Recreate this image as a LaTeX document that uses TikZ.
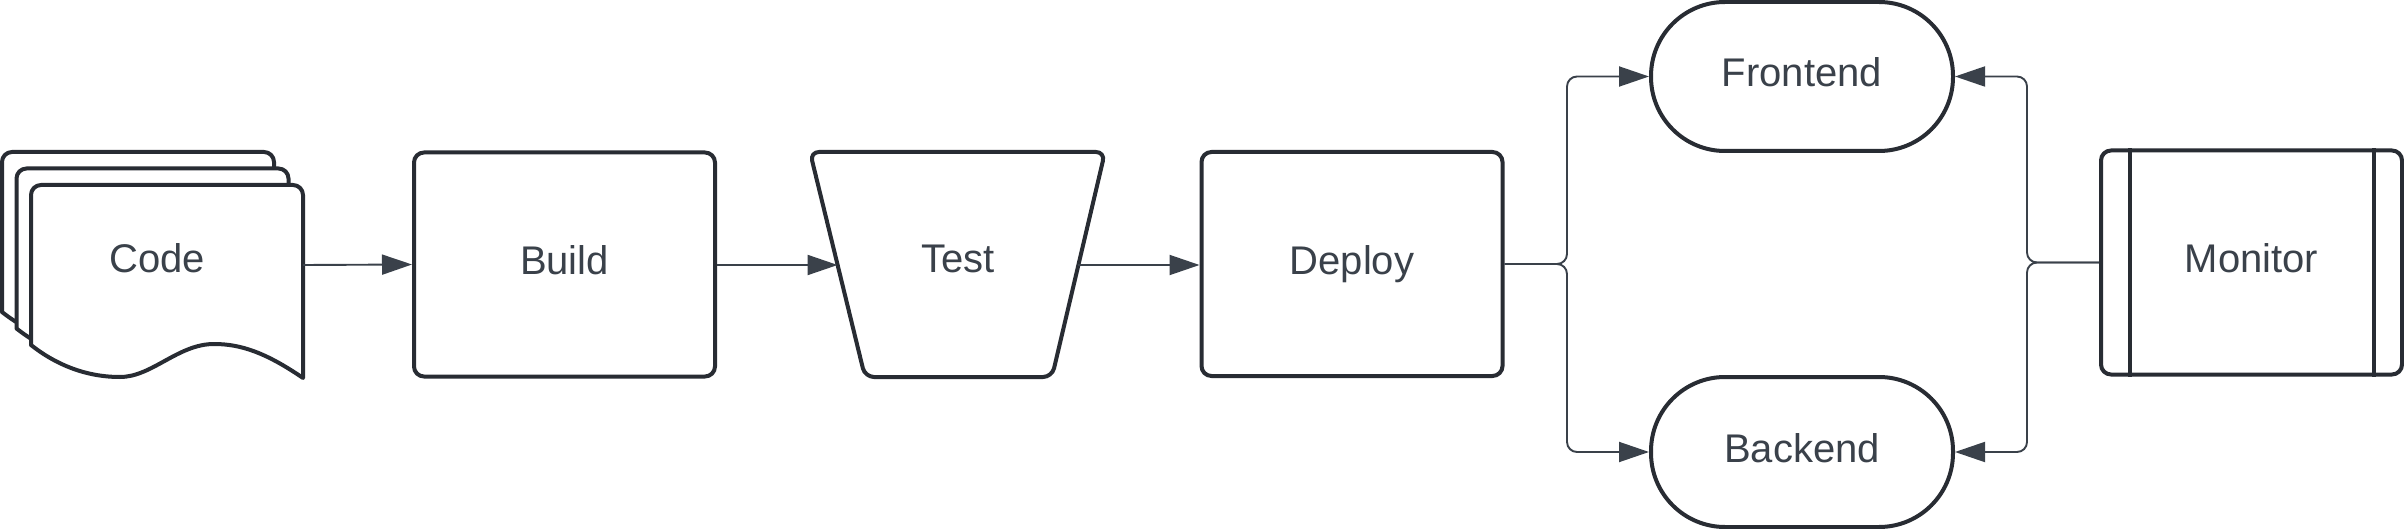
\documentclass[tikz,border=0pt]{standalone}
\usepackage{fontspec}
\setmainfont{Liberation Sans}
\usetikzlibrary{arrows.meta,calc}
\definecolor{linec}{HTML}{282C33}
\definecolor{connc}{HTML}{3A414A}
\definecolor{textc}{HTML}{3A414A}
\tikzset{
  shapeline/.style={draw=linec, line width=4pt, fill=white},
  boxnode/.style={shapeline, rectangle, rounded corners=10pt, minimum width=301pt, minimum height=224pt, inner sep=0pt},
  pillnode/.style={shapeline, rectangle, rounded corners=74pt, minimum width=302pt, minimum height=149pt, inner sep=0pt},
  lbl/.style={font=\fontsize{40}{48}\selectfont, text=textc, text height=29pt, text depth=8pt},
  conn/.style={draw=connc, line width=1.9pt, rounded corners=10pt, -{Triangle[length=30pt,width=20pt]}},
}
\begin{document}
\begin{tikzpicture}[x=1pt,y=-1pt]
\useasboundingbox (0,0) rectangle (2404,529);
\fill[white] (0,0) rectangle (2404,529);

% Code: stack of documents
\foreach \k in {2,1,0}{
  \begin{scope}[shift={({-14.5*\k},{-16.5*\k})}]
    \draw[shapeline, line join=round] (31,345) -- (31,195) arc[start angle=180,end angle=270,radius=10]
      -- (293,185) arc[start angle=270,end angle=360,radius=10]
      -- (303,378) .. controls (265,352) and (240,344) .. (214,344)
      .. controls (178,344) and (152,377) .. (120,377)
      .. controls (85,377) and (55,364) .. (31,345) -- cycle;
  \end{scope}
}
\node[lbl] (code) at (157,262) {Code};
\coordinate (code-out) at (303,265);

% Build
\node[boxnode, lbl] (build) at (564.5,264.5) {Build};

% Test trapezoid
\draw[shapeline, rounded corners=9pt] (810,152) -- (1105,152) -- (1052,377) -- (865,377) -- cycle;
\node[lbl] (test) at (958,262) {Test};
\coordinate (test-l) at (837.6,265);
\coordinate (test-r) at (1078.4,265);

% Deploy
\node[boxnode, lbl] (deploy) at (1352,264) {Deploy};

% Frontend / Backend
\node[pillnode, lbl] (front) at (1802,76.5) {Frontend};
\node[pillnode, lbl, minimum height=150pt] (back) at (1802,452) {Backend};

% Monitor
\node[boxnode, lbl] (monitor) at (2251.5,262.5) {Monitor};
\draw[draw=linec, line width=4pt] ([xshift=31pt]monitor.north west) -- ([xshift=31pt]monitor.south west);
\draw[draw=linec, line width=4pt] ([xshift=-30pt]monitor.north east) -- ([xshift=-30pt]monitor.south east);

% Connectors
\draw[conn] (code-out) -- (build.west);
\draw[conn] (build.east |- test-l) -- (test-l);
\draw[conn] (test-r) -- (deploy.west |- test-r);

\coordinate (splitL) at (1567,264);
\draw[conn] (deploy.east) -- (splitL) |- (front.west);
\draw[conn] (deploy.east) -- (splitL) |- (back.west);

\coordinate (splitR) at (2027,262.5);
\draw[conn] (monitor.west) -- (splitR) |- (front.east);
\draw[conn] (monitor.west) -- (splitR) |- (back.east);
\end{tikzpicture}
\end{document}
